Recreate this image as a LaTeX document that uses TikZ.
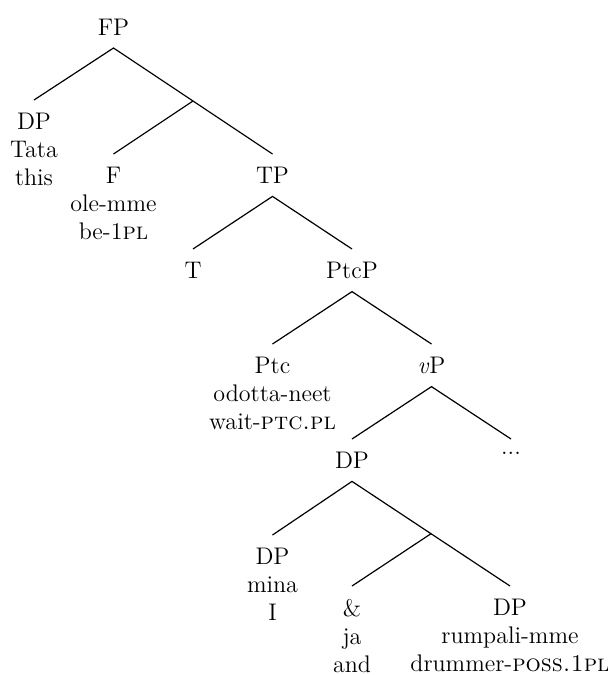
\documentclass[tikz,border=0pt]{standalone}
\usepackage{tikz}
\usetikzlibrary{calc}

\begin{document}
\begin{tikzpicture}[x=1pt,y=1pt,
  lbl/.style={align=center, inner sep=0pt, outer ysep=6.5pt, anchor=north,
    font=\fontsize{12}{14}\selectfont},
  branch/.style={line width=0.6pt}]
\useasboundingbox (0,0) rectangle (304,-337.5);
% top of the tree
\node[lbl, anchor=south] (FP) at (56.75,-24) {FP};
\node[lbl] (DPa) at (17,-50) {DP\\Tata\\this};
\node[lbl] (TP) at (136.25,-77) {TP};
\coordinate (Fbar) at ($(FP.south)!0.5!(TP.north)$);
\node[lbl] (F) at (56.75,-77) {F\\ole-mme\\be-1\textsc{pl}};
% TP and PtcP
\node[lbl] (T) at (96.5,-124.5) {T};
\node[lbl] (PtcP) at (176,-124.5) {PtcP};
\node[lbl] (Ptc) at (136.25,-172) {Ptc\\odotta-neet\\wait-\textsc{ptc.pl}};
\node[lbl] (vP) at (215.75,-172) {\emph{v}P};
% vP
\node[lbl] (DPb) at (176,-219.5) {DP};
\node[lbl] (dots) at (255.5,-219.5) {...};
% coordinated DP
\node[lbl] (DPc) at (136.25,-267.5) {DP\\mina\\I};
\node[lbl] (DPd) at (255,-293) {DP\\rumpali-mme\\drummer-\textsc{poss.1pl}};
\coordinate (Co) at ($(DPb.south)!0.5!(DPd.north)$);
\node[lbl] (and) at (176,-293) {\&\\ja\\and};

\draw[branch] (DPa.north) -- (FP.south) -- (TP.north);
\draw[branch] (Fbar) -- (F.north);
\draw[branch] (T.north) -- (TP.south) -- (PtcP.north);
\draw[branch] (Ptc.north) -- (PtcP.south) -- (vP.north);
\draw[branch] (DPb.north) -- (vP.south) -- (dots.north);
\draw[branch] (DPc.north) -- (DPb.south) -- (DPd.north);
\draw[branch] (Co) -- (and.north);
\end{tikzpicture}
\end{document}
